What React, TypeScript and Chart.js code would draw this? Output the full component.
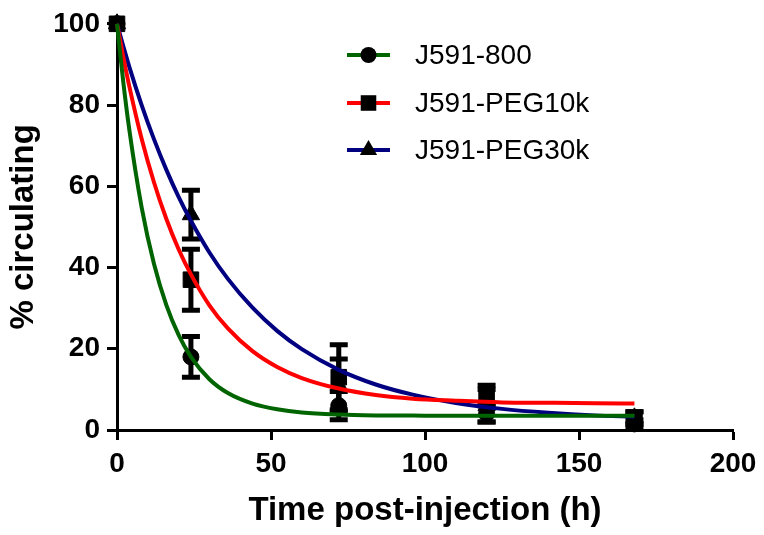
import React, { useEffect, useRef } from 'react';
import { Chart, registerables } from 'chart.js';

Chart.register(...registerables);

// Measured points (time in h, % circulating) with symmetric error bars
const pointTimes = [0, 24, 72, 120, 168];
const j800Values = [100, 18, 6, 4, 1.5];
const j800Errors = [0, 5, 3.5, 2, 1];
const peg10Values = [100, 37, 13, 8.5, 3];
const peg10Errors = [0, 7.5, 8, 2.5, 1.5];
const peg30Values = [100, 53, 11, 6, 3];
const peg30Errors = [0, 6, 6.5, 4, 1.5];

// Fitted decay curves
const fitTimes = [0, 2, 4, 8, 12, 16, 20, 24, 30, 36, 44, 52, 60, 72, 84, 96, 110, 125, 140, 155, 168];
const j800Fit = [100, 85.9, 73.9, 54.8, 40.9, 30.8, 23.4, 18.0, 12.5, 9.1, 6.5, 5.1, 4.3, 3.8, 3.6, 3.55, 3.5, 3.5, 3.5, 3.5, 3.5];
const peg10Fit = [100, 92.0, 84.6, 71.7, 61.0, 52.0, 44.5, 38.3, 30.7, 25.0, 19.4, 15.5, 12.8, 10.2, 8.6, 7.7, 7.2, 6.8, 6.7, 6.6, 6.5];
const peg30Fit = [100, 94.6, 89.4, 80.0, 71.6, 64.1, 57.4, 51.5, 43.7, 37.2, 30.1, 24.4, 19.9, 14.8, 11.2, 8.7, 6.65, 5.2, 4.25, 3.6, 3.3];

const seriesNames = ['J591-800', 'J591-PEG10k', 'J591-PEG30k'];
const seriesColors = ['#006400', '#ff0000', '#000080'];
const markerStyles = ['circle', 'rect', 'triangle'];
const markerRadii = [8, 11, 10];

const xTitle = 'Time post-injection (h)';
const yTitle = '% circulating';

const FONT = '"Liberation Sans", Arial, sans-serif';

const errorBarPlugin = {
  id: 'errorBars',
  beforeDatasetsDraw(chart: any) {
    const ctx = chart.ctx;
    const xs = chart.scales.x;
    const ys = chart.scales.y;
    ctx.save();
    ctx.strokeStyle = '#000';
    ctx.lineWidth = 5;
    ctx.lineCap = 'butt';
    chart.data.datasets.forEach((ds: any) => {
      if (!ds.errors) return;
      ds.data.forEach((p: any, i: number) => {
        const e = ds.errors[i];
        if (!e) return;
        const px = xs.getPixelForValue(p.x);
        const top = ys.getPixelForValue(p.y + e);
        const bot = ys.getPixelForValue(p.y - e);
        ctx.beginPath();
        ctx.moveTo(px, top);
        ctx.lineTo(px, bot);
        ctx.moveTo(px - 9, top);
        ctx.lineTo(px + 9, top);
        ctx.moveTo(px - 9, bot);
        ctx.lineTo(px + 9, bot);
        ctx.stroke();
      });
    });
    ctx.restore();
  },
};

const legendPlugin = {
  id: 'customLegend',
  afterDraw(chart: any) {
    const ctx = chart.ctx;
    const x0 = 347;
    const x1 = 390;
    const textX = 415;
    const rowY = [55, 103, 150];
    ctx.save();
    seriesNames.forEach((name, i) => {
      const y = rowY[i];
      ctx.strokeStyle = seriesColors[i];
      ctx.lineWidth = 4;
      ctx.beginPath();
      ctx.moveTo(x0, y);
      ctx.lineTo(x1, y);
      ctx.stroke();
      ctx.fillStyle = '#000';
      const cx = (x0 + x1) / 2;
      const r = markerRadii[i];
      ctx.beginPath();
      if (markerStyles[i] === 'circle') {
        ctx.arc(cx, y, r, 0, Math.PI * 2);
      } else if (markerStyles[i] === 'rect') {
        const s = r * Math.SQRT1_2;
        ctx.rect(cx - s, y - s, 2 * s, 2 * s);
      } else {
        const w = r * Math.sin(Math.PI / 3);
        ctx.moveTo(cx, y - r);
        ctx.lineTo(cx + w, y + r / 2);
        ctx.lineTo(cx - w, y + r / 2);
        ctx.closePath();
      }
      ctx.fill();
      ctx.font = `28px ${FONT}`;
      ctx.textAlign = 'left';
      ctx.textBaseline = 'middle';
      ctx.fillText(name, textX, y + 1);
    });
    ctx.restore();
  },
};

function toPoints(xsArr: number[], ysArr: number[]) {
  return xsArr.map((x, i) => ({ x, y: ysArr[i] }));
}

export default function App() {
  const canvasRef = useRef<HTMLCanvasElement | null>(null);

  useEffect(() => {
    const canvas = canvasRef.current;
    if (!canvas) return;
    const fits = [j800Fit, peg10Fit, peg30Fit];
    const vals = [j800Values, peg10Values, peg30Values];
    const errs = [j800Errors, peg10Errors, peg30Errors];

    const datasets: any[] = [];
    fits.forEach((f, i) => {
      datasets.push({
        label: seriesNames[i] + ' fit',
        data: toPoints(fitTimes, f),
        showLine: true,
        borderColor: seriesColors[i],
        borderWidth: 4,
        pointRadius: 0,
        cubicInterpolationMode: 'monotone',
        fill: false,
        order: 0,
        clip: false,
      });
    });
    vals.forEach((v, i) => {
      datasets.push({
        label: seriesNames[i],
        data: toPoints(pointTimes, v),
        errors: errs[i],
        showLine: false,
        pointStyle: markerStyles[i],
        pointRadius: markerRadii[i],
        pointBackgroundColor: '#000',
        pointBorderColor: '#000',
        pointBorderWidth: 1,
        order: 1,
        clip: false,
      });
    });

    const chart = new Chart(canvas, {
      type: 'scatter',
      data: { datasets },
      options: {
        responsive: false,
        animation: false,
        devicePixelRatio: 1,
        layout: { padding: { top: 18, right: 31, left: 0, bottom: 0 } },
        plugins: {
          legend: { display: false },
          tooltip: { enabled: false },
        },
        scales: {
          x: {
            type: 'linear',
            min: 0,
            max: 200,
            ticks: {
              stepSize: 50,
              color: '#000',
              padding: 7,
              font: { family: FONT, size: 28, weight: 'bold' },
            },
            grid: {
              drawOnChartArea: false,
              drawTicks: true,
              tickLength: 10,
              tickWidth: 3,
              tickColor: '#000',
            },
            border: { display: true, color: '#000', width: 3 },
            title: {
              display: true,
              text: xTitle,
              color: '#000',
              font: { family: FONT, size: 33, weight: 'bold' },
              padding: { top: 0, bottom: 4 },
            },
            afterFit: (s: any) => {
              s.height = 105;
            },
          },
          y: {
            type: 'linear',
            min: 0,
            max: 100,
            ticks: {
              stepSize: 20,
              color: '#000',
              padding: 7,
              font: { family: FONT, size: 28, weight: 'bold' },
            },
            grid: {
              drawOnChartArea: false,
              drawTicks: true,
              tickLength: 10,
              tickWidth: 3,
              tickColor: '#000',
            },
            border: { display: true, color: '#000', width: 3 },
            title: {
              display: true,
              text: yTitle,
              color: '#000',
              font: { family: FONT, size: 33, weight: 'bold' },
              padding: { top: 4, bottom: 0 },
            },
            afterFit: (s: any) => {
              s.width = 117;
            },
          },
        },
      } as any,
      plugins: [errorBarPlugin, legendPlugin],
    });
    return () => chart.destroy();
  }, []);

  return (
    <div style={{ position: 'fixed', left: 0, top: 0, width: 764, height: 535, background: '#fff' }}>
      <canvas ref={canvasRef} width={764} height={535} style={{ display: 'block' }} />
    </div>
  );
}
